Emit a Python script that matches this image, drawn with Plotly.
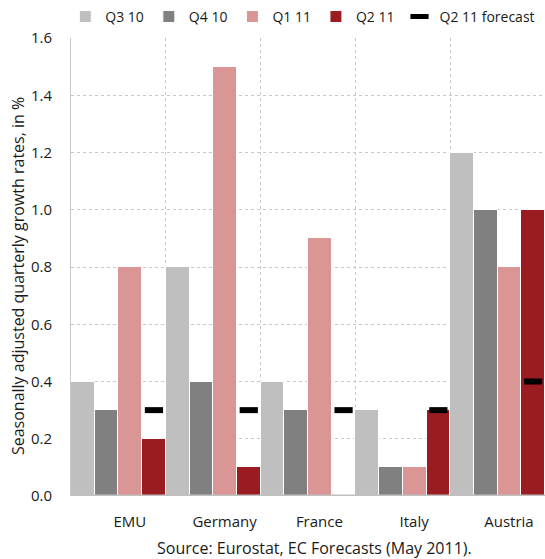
import plotly.graph_objects as go

countries = ["EMU", "Germany", "France", "Italy", "Austria"]
q3_10 = [0.4, 0.8, 0.4, 0.3, 1.2]
q4_10 = [0.3, 0.4, 0.3, 0.1, 1.0]
q1_11 = [0.8, 1.5, 0.9, 0.1, 0.8]
q2_11 = [0.2, 0.1, 0.0, 0.3, 1.0]
q2_11_forecast = [0.3, 0.3, 0.3, 0.3, 0.4]

series = [
    ("Q3 10", q3_10, "#bfbfbf"),
    ("Q4 10", q4_10, "#808080"),
    ("Q1 11", q1_11, "#da9694"),
    ("Q2 11", q2_11, "#9b1c20"),
]

FONT = "Open Sans"
idx = list(range(len(countries)))

fig = go.Figure()
for name, vals, color in series:
    fig.add_trace(go.Bar(
        x=idx, y=vals, name=name,
        marker=dict(color=color, line=dict(color="white", width=1)),
    ))

# forecast dash sits over the Q2 11 bar of each group
fig.add_trace(go.Scatter(
    x=[i + 0.375 for i in idx], y=q2_11_forecast, name="Q2 11 forecast",
    mode="markers",
    marker=dict(symbol="line-ew", size=13, color="black",
                line=dict(color="black", width=6)),
))

grid = "#c8c8c8"
fig.update_layout(
    width=545, height=559,
    margin=dict(l=71, r=0, t=38, b=63),
    barmode="group", bargap=0, bargroupgap=0,
    plot_bgcolor="white", paper_bgcolor="white",
    font=dict(family=FONT, size=15, color="#1a1a1a"),
    showlegend=True,
    legend=dict(orientation="h", x=-0.012, xanchor="left", y=1.046,
                yanchor="middle", font=dict(size=14),
                itemwidth=30, tracegroupgap=0),
    xaxis=dict(
        range=[-0.5, 4.5],
        tickmode="array",
        tickvals=[i + 0.12 for i in idx],
        ticktext=countries,
        tickfont=dict(size=15),
        showgrid=False, zeroline=False,
        ticks="", ticklabelstandoff=15,
        minor=dict(tickmode="array", tickvals=[0.5, 1.5, 2.5, 3.5],
                   showgrid=True, gridcolor=grid, griddash="dot",
                   gridwidth=1, ticks=""),
    ),
    yaxis=dict(
        range=[0, 1.6], dtick=0.2, tickformat=".1f",
        tickfont=dict(size=15),
        showgrid=True, gridcolor=grid, griddash="dot", gridwidth=1,
        zeroline=False,
        showline=True, linecolor="#c8c8c8", linewidth=1, mirror=True,
        ticks="", ticklabelstandoff=15,
    ),
    shapes=[dict(type="line", xref="paper", yref="y", x0=0, x1=1, y0=0, y1=0,
                 line=dict(color="#c0c0c0", width=3))],
    annotations=[
        dict(text="Seasonally adjusted quarterly growth rates, in %",
             xref="paper", yref="paper", x=-0.112, y=0.48, textangle=-90,
             xanchor="center", yanchor="middle", showarrow=False,
             font=dict(size=16)),
        dict(text="Source: Eurostat, EC Forecasts (May 2011).",
             xref="paper", yref="paper", x=0.513, y=-0.113,
             xanchor="center", yanchor="middle", showarrow=False,
             font=dict(size=16)),
    ],
)

fig.write_html("out.html")
